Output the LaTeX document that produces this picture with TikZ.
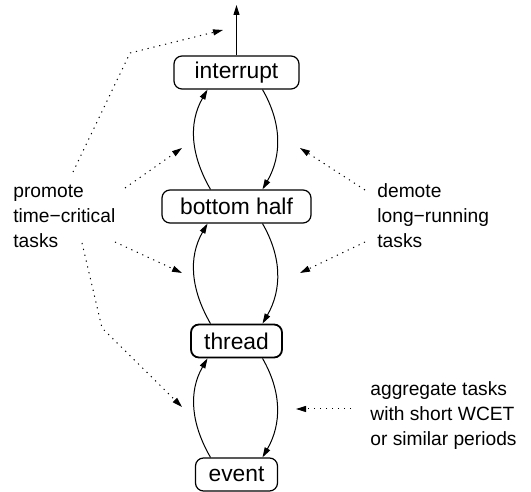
\documentclass[tikz,border=0pt]{standalone}
\usepackage{fontspec}
\setmainfont{Liberation Sans}
\usetikzlibrary{arrows.meta}
\begin{document}
\begin{tikzpicture}[x=0.5pt, y=0.5pt,
		level/.style={draw, rounded corners=4pt, line width=0.6pt, minimum height=16.5pt, inner sep=0pt, font=\fontsize{11.4}{13}\selectfont},
		note/.style={align=left, inner sep=0pt, anchor=base west, font=\fontsize{9.6}{12.5}\selectfont},
		flow/.style={-{Triangle[length=5pt, width=3pt]}, line width=0.5pt},
		hint/.style={flow, dash pattern=on 0.6pt off 2.4pt}]
	\useasboundingbox (0, 0) rectangle (531, 492);
	\node[level, minimum width=62.5pt] (int) at (236.5, 419.5) {interrupt};
	\node[level, minimum width=74.5pt] (bh) at (236.5, 285.5) {bottom half};
	\node[level, minimum width=45.5pt, line width=0.9pt] (thr) at (236.5, 151) {thread};
	\node[level, minimum width=41pt] (evt) at (236.5, 17.5) {event};
	\node[note] (promote) at (13, 244) {promote\\time−critical\\tasks};
	\node[note] (demote) at (377, 244) {demote\\long−running\\tasks};
	\node[note] (aggr) at (370, 46) {aggregate tasks\\with short WCET\\or similar periods};
	\coordinate (top) at (236.5, 487);
	\draw[flow] (int) -- (top);
	\draw[flow] ([xshift=-13pt]bh.north) to[out=120, in=240] ([xshift=-14.5pt]int.south);
	\draw[flow] ([xshift=13pt]int.south) to[out=-60, in=60] ([xshift=13pt]bh.north);
	\draw[flow] ([xshift=-13pt]thr.north) to[out=120, in=240] ([xshift=-14.5pt]bh.south);
	\draw[flow] ([xshift=13pt]bh.south) to[out=-60, in=60] ([xshift=13pt]thr.north);
	\draw[flow] ([xshift=-13pt]evt.north) to[out=120, in=240] ([xshift=-14.5pt]thr.south);
	\draw[flow] ([xshift=13pt]thr.south) to[out=-60, in=60] ([xshift=13pt]evt.north);
	\coordinate (p1) at (73, 320);
	\coordinate (p1b) at (130, 439);
	\coordinate (p1e) at (223, 462);
	\coordinate (p2) at (125, 304);
	\coordinate (p2e) at (182, 344);
	\coordinate (p3) at (115, 250);
	\coordinate (p3e) at (182, 219);
	\coordinate (p4) at (82, 249);
	\coordinate (p4b) at (102, 164);
	\coordinate (p4e) at (182, 85);
	\draw[hint] (p1) -- (p1b) -- (p1e);
	\draw[hint] (p2) -- (p2e);
	\draw[hint] (p3) -- (p3e);
	\draw[hint] (p4) -- (p4b) -- (p4e);
	\coordinate (d1) at (365, 302);
	\coordinate (d1e) at (300, 344);
	\coordinate (d2) at (365, 250);
	\coordinate (d2e) at (300, 219);
	\draw[hint] (d1) -- (d1e);
	\draw[hint] (d2) -- (d2e);
	\coordinate (a1) at (351, 83);
	\coordinate (a1e) at (296, 83);
	\draw[hint] (a1) -- (a1e);
\end{tikzpicture}
\end{document}
